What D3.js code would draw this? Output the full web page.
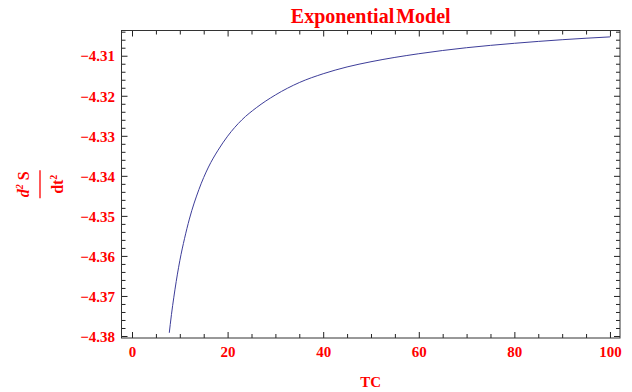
<!DOCTYPE html>
<html>
<head>
<meta charset="utf-8">
<script src="https://cdn.jsdelivr.net/npm/d3@7"></script>
<style>
  body { margin: 0; background: #fff; }
  svg { display: block; }
  .lbl { font-family: "Liberation Serif", "Times New Roman", serif; font-weight: bold; fill: #f00; }
</style>
</head>
<body>
<div id="chart"></div>
<script>
(function(){
  'use strict';

  // values
  var tc = [7.8, 8, 9, 10, 11, 12, 14, 16, 18, 20, 23, 26, 30, 35, 40, 45, 50, 60, 70, 80, 90, 100];
  var d2s = [-4.3792, -4.3771, -4.3683, -4.3612, -4.3556, -4.3508, -4.3434, -4.3378, -4.3336, -4.3301,
             -4.3260, -4.3230, -4.3198, -4.3167, -4.3145, -4.3128, -4.3115, -4.3095, -4.3080, -4.3069,
             -4.3060, -4.3053];
  var xMajor = [0, 20, 40, 60, 80, 100];
  var yMajor = [-4.38, -4.37, -4.36, -4.35, -4.34, -4.33, -4.32, -4.31];

  var W = 632, H = 392;
  var left = 121.5, right = 620, top = 30.5, bottom = 338;

  var svg = d3.select('#chart').append('svg').attr('width', W).attr('height', H);

  var x = d3.scaleLinear().domain([-2.2, 102.1]).range([left, right]);
  var y = d3.scaleLinear().domain([-4.3805, -4.3037]).range([bottom, top]);

  var xMinor = d3.range(0, 101, 5).filter(function(v){ return xMajor.indexOf(v) < 0; });
  var yMinor = d3.range(-4.3800, -4.3036, 0.002).filter(function(v){
    return yMajor.every(function(m){ return Math.abs(m - v) > 1e-6; });
  });
  var fmt = d3.format('.2f');

  function tickAxis(axisFn, scale, vals, size, withLabels, tx, ty){
    var g = svg.append('g').attr('transform', 'translate(' + tx + ',' + ty + ')')
      .call(axisFn(scale).tickValues(vals).tickSize(size).tickPadding(6)
        .tickFormat(withLabels ? (axisFn === d3.axisLeft ? fmt : d3.format('d')) : ''));
    g.select('.domain').remove();
    g.selectAll('line').attr('stroke', '#222').attr('stroke-width', 1);
    g.selectAll('text').attr('class', 'lbl').style('font-size', '15px');
    return g;
  }

  // bottom / left with labels, top / right mirrored
  var bx = tickAxis(d3.axisBottom, x, xMajor, -6, true, 0, bottom);
  bx.selectAll('text').attr('y', 19).attr('dy', null);
  tickAxis(d3.axisBottom, x, xMinor, -4, false, 0, bottom);
  tickAxis(d3.axisTop, x, xMajor, -6, false, 0, top);
  tickAxis(d3.axisTop, x, xMinor, -4, false, 0, top);
  var ly = tickAxis(d3.axisLeft, y, yMajor, -6, true, left, 0);
  ly.selectAll('text').attr('x', -6.5).attr('dy', '0.35em');
  tickAxis(d3.axisLeft, y, yMinor, -4, false, left, 0);
  tickAxis(d3.axisRight, y, yMajor, -6, false, right, 0);
  tickAxis(d3.axisRight, y, yMinor, -4, false, right, 0);

  // frame
  svg.append('rect').attr('x', left).attr('y', top)
    .attr('width', right - left).attr('height', bottom - top)
    .attr('fill', 'none').attr('stroke', '#333').attr('stroke-width', 1);

  // curve
  var pts = tc.map(function(t, i){ return [t, d2s[i]]; });
  svg.append('path').datum(pts)
    .attr('fill', 'none').attr('stroke', '#3d3d99').attr('stroke-width', 1)
    .attr('d', d3.line().x(function(d){ return x(d[0]); }).y(function(d){ return y(d[1]); })
      .curve(d3.curveMonotoneX));

  // title
  svg.append('text').attr('class', 'lbl').attr('x', (left + right) / 2).attr('y', 23)
    .attr('text-anchor', 'middle').style('font-size', '20px').style('word-spacing', '-3px')
    .text('Exponential Model');

  // x label
  svg.append('text').attr('class', 'lbl').attr('x', (left + right) / 2).attr('y', 387)
    .attr('text-anchor', 'middle').style('font-size', '15px').text('TC');

  // y label: d²S / dt², rotated
  var yl = svg.append('g').attr('transform', 'translate(40,' + ((top + bottom) / 2) + ') rotate(-90)');
  var num = yl.append('text').attr('class', 'lbl').attr('x', 0).attr('y', -11)
    .attr('text-anchor', 'middle').style('font-size', '16px');
  num.append('tspan').style('font-style', 'italic').text('d');
  num.append('tspan').attr('dy', -6).style('font-size', '10px').style('font-style', 'italic').text('2');
  num.append('tspan').attr('dy', 6).text(' S');
  yl.append('line').attr('x1', -14).attr('x2', 14).attr('y1', 0).attr('y2', 0)
    .attr('stroke', '#f00').attr('stroke-width', 1.3);
  var den = yl.append('text').attr('class', 'lbl').attr('x', 0).attr('y', 23)
    .attr('text-anchor', 'middle').style('font-size', '16px');
  den.append('tspan').text('dt');
  den.append('tspan').attr('dy', -6).style('font-size', '10px').text('2');
})();
</script>
</body>
</html>
